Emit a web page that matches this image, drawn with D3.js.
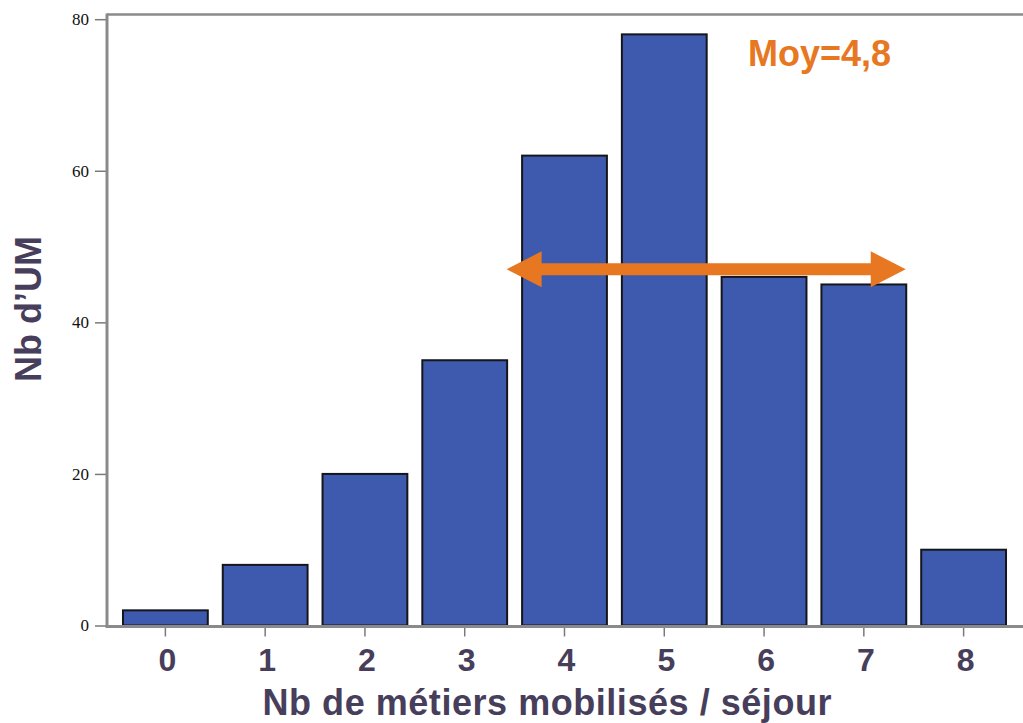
<!DOCTYPE html>
<html>
<head>
<meta charset="utf-8">
<script src="https://cdn.jsdelivr.net/npm/d3@7"></script>
<style>
  body { margin: 0; background: #fff; }
</style>
</head>
<body>
<svg id="drawing_region"></svg>
<script>
const categories = ['0', '1', '2', '3', '4', '5', '6', '7', '8'];
const counts = [2, 8, 20, 35, 62, 78, 46, 45, 10];
const yTicks = [0, 20, 40, 60, 80];
// mean arrow, in category units / count units
const arrowFrom = 3.42;
const arrowTo = 7.42;
const arrowLevel = 47;
const meanLabel = 'Moy=4,8';

const config = {
    width: 1023,
    height: 723,
    left: 107,
    right: 1013.5,
    top: 14.5,
    bottom: 625.5
};

const svg = d3.select('#drawing_region')
    .attr('width', config.width)
    .attr('height', config.height);

const xscale = d3.scaleBand()
    .domain(categories)
    .range([115.5, config.right])
    .paddingInner(0.15)
    .paddingOuter(0.075);

const yscale = d3.scaleLinear()
    .domain([0, 80])
    .range([config.bottom, 19.2]);

// category index -> band centre
const xpos = d3.scaleLinear()
    .domain([0, 1])
    .range([xscale('0') + xscale.bandwidth() / 2, xscale('1') + xscale.bandwidth() / 2]);

// bars
svg.append('g').selectAll('rect')
    .data(counts)
    .join('rect')
    .attr('x', (d, i) => xscale(categories[i]))
    .attr('y', d => yscale(d))
    .attr('width', xscale.bandwidth())
    .attr('height', d => yscale(0) - yscale(d))
    .attr('fill', '#3d5aae')
    .attr('stroke', '#15151a')
    .attr('stroke-width', 2);

// frame lines
svg.append('line')
    .attr('x1', config.left).attr('x2', config.width)
    .attr('y1', config.top).attr('y2', config.top)
    .attr('stroke', '#8a8a8a').attr('stroke-width', 2.5);

// y axis
const yaxis = d3.axisLeft(yscale)
    .tickValues(yTicks)
    .tickSize(12)
    .tickPadding(6);
const yg = svg.append('g')
    .attr('transform', `translate(${config.left}, 0)`)
    .call(yaxis);
yg.select('.domain').remove();
yg.selectAll('.tick line').attr('stroke', '#7a7a7a').attr('stroke-width', 1.5);
yg.selectAll('.tick text')
    .attr('font-family', '"Liberation Serif", "DejaVu Serif", serif')
    .attr('font-size', 17)
    .attr('fill', '#111');
svg.append('line')
    .attr('x1', config.left).attr('x2', config.left)
    .attr('y1', config.top - 1).attr('y2', config.bottom + 1.5)
    .attr('stroke', '#8a8a8a').attr('stroke-width', 3);

// x axis
const xaxis = d3.axisBottom(xscale)
    .tickSize(10)
    .tickPadding(12);
const xg = svg.append('g')
    .attr('transform', `translate(0, ${config.bottom + 1})`)
    .call(xaxis);
xg.select('.domain').remove();
xg.selectAll('.tick line').attr('stroke', '#7a7a7a').attr('stroke-width', 1.5);
xg.selectAll('.tick text')
    .attr('font-family', '"Liberation Sans", Arial, sans-serif')
    .attr('font-weight', 'bold')
    .attr('font-size', 32)
    .attr('dx', 2)
    .attr('fill', '#473e5b');
svg.append('line')
    .attr('x1', config.left - 1.5).attr('x2', config.width)
    .attr('y1', config.bottom + 1).attr('y2', config.bottom + 1)
    .attr('stroke', '#8a8a8a').attr('stroke-width', 3);

// axis titles
svg.append('text')
    .attr('x', 547)
    .attr('y', 715)
    .attr('text-anchor', 'middle')
    .attr('font-family', '"Liberation Sans", Arial, sans-serif')
    .attr('font-weight', 'bold')
    .attr('font-size', 36)
    .attr('textLength', 569)
    .attr('fill', '#473e5b')
    .text('Nb de métiers mobilisés / séjour');

svg.append('text')
    .attr('transform', 'translate(41, 309) rotate(-90)')
    .attr('text-anchor', 'middle')
    .attr('font-family', '"Liberation Sans", Arial, sans-serif')
    .attr('font-weight', 'bold')
    .attr('font-size', 36)
    .attr('fill', '#473e5b')
    .text('Nb d’UM');

// mean arrow
const ay = yscale(arrowLevel);
const ax1 = xpos(arrowFrom), ax2 = xpos(arrowTo);
const headLen = 35, headHalf = 18, shaft = 6;
const arrowPath = d3.path();
arrowPath.moveTo(ax1, ay);
arrowPath.lineTo(ax1 + headLen, ay - headHalf);
arrowPath.lineTo(ax1 + headLen, ay - shaft);
arrowPath.lineTo(ax2 - headLen, ay - shaft);
arrowPath.lineTo(ax2 - headLen, ay - headHalf);
arrowPath.lineTo(ax2, ay);
arrowPath.lineTo(ax2 - headLen, ay + headHalf);
arrowPath.lineTo(ax2 - headLen, ay + shaft);
arrowPath.lineTo(ax1 + headLen, ay + shaft);
arrowPath.lineTo(ax1 + headLen, ay + headHalf);
arrowPath.closePath();
svg.append('path')
    .attr('d', arrowPath.toString())
    .attr('fill', '#e87722');

svg.append('text')
    .attr('x', 748)
    .attr('y', 66)
    .attr('font-family', '"Liberation Sans", Arial, sans-serif')
    .attr('font-weight', 'bold')
    .attr('font-size', 36)
    .attr('fill', '#e87722')
    .text(meanLabel);
</script>
</body>
</html>
